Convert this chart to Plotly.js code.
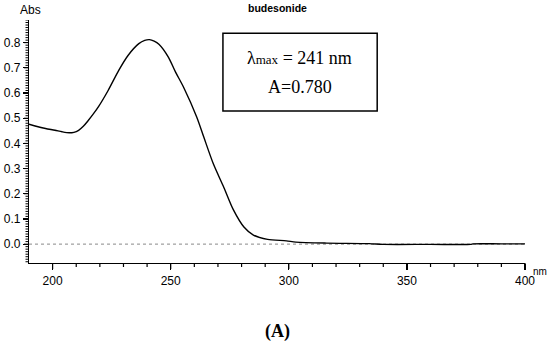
<!DOCTYPE html>
<html>
<head>
<meta charset="utf-8">
<script src="https://cdn.plot.ly/plotly-3.0.1.min.js"></script>
<style>html,body{margin:0;padding:0;background:#fff;}#chart{width:550px;height:341px;}</style>
</head>
<body>
<div id="chart"></div>
<script>
const wavelength = [190, 193, 197, 201, 204, 207, 209, 211, 213, 215, 217, 219.5, 223.5, 228, 232, 236.5, 239, 241, 243, 245, 249, 252, 255.5, 261, 264, 268, 272.5, 276.5, 281, 285, 291, 299, 303, 316, 334, 340, 360, 377, 378, 390, 400];
const absorbance = [0.476, 0.468, 0.459, 0.452, 0.446, 0.442, 0.444, 0.452, 0.468, 0.490, 0.514, 0.547, 0.610, 0.690, 0.750, 0.796, 0.809, 0.812, 0.806, 0.794, 0.743, 0.684, 0.622, 0.505, 0.425, 0.320, 0.225, 0.137, 0.068, 0.036, 0.019, 0.013, 0.008, 0.004, 0.002, -0.001, -0.001, -0.001, 0.001, 0.001, 0.001];
const xRange = [190, 400];
const yRange = [-0.075, 0.89];
const xTickStart = 200, xTickStep = 50, xMinorStep = 10;
const yTickStart = 0, yTickStep = 0.1, yMinorStep = 0.01;

const trace = {
  x: wavelength, y: absorbance, type: 'scatter', mode: 'lines',
  line: {color: '#000', width: 1.4, shape: 'spline', smoothing: 0.8},
  hoverinfo: 'skip'
};
const sans = 'Liberation Sans, Arial, sans-serif';
const serif = 'Liberation Serif, Times New Roman, serif';
const tickFont = {family: sans, size: 12, color: '#000'};

const tickShapes = [];
for (let i = 0; ; i++) {
  const v = xTickStart + i * xMinorStep;
  if (v > xRange[1] + 1e-9) break;
  const major = (Math.round(v - xTickStart) % xTickStep) === 0;
  const px = (v - xRange[0]) / (xRange[1] - xRange[0]);
  tickShapes.push({type: 'line', xref: 'paper', yref: 'paper', ysizemode: 'pixel', yanchor: 0,
    x0: px, x1: px, y0: 0, y1: major ? -6 : -4, line: {color: '#000', width: 1.2}});
}
for (let i = -7; ; i++) {
  const v = +(yTickStart + i * yMinorStep).toFixed(3);
  if (v > yRange[1] + 1e-9) break;
  const major = Math.abs(Math.round(v / yTickStep) * yTickStep - v) < 1e-6;
  tickShapes.push({type: 'line', xref: 'paper', yref: 'y', xsizemode: 'pixel', xanchor: 0,
    x0: major ? -5 : -3.5, x1: 0, y0: v, y1: v, line: {color: '#000', width: 1}});
}

const layout = {
  width: 550, height: 341,
  margin: {l: 29, r: 25, t: 20, b: 78},
  paper_bgcolor: '#fff', plot_bgcolor: '#fff',
  showlegend: false,
  xaxis: {
    range: xRange, tickmode: 'linear', tick0: xTickStart, dtick: xTickStep,
    showgrid: false, zeroline: false, showline: true, linecolor: '#000', linewidth: 1.2,
    ticks: 'outside', ticklen: 6, tickcolor: '#000', tickwidth: 1.2,
    tickfont: tickFont, fixedrange: true
  },
  yaxis: {
    range: yRange, tickmode: 'linear', tick0: yTickStart, dtick: yTickStep, tickformat: '.1f',
    showgrid: false, zeroline: false, showline: true, linecolor: '#000', linewidth: 1.2,
    ticks: 'outside', ticklen: 5, tickcolor: '#000', tickwidth: 1.2,
    tickfont: tickFont, fixedrange: true
  },
  shapes: [
    {type: 'line', xref: 'paper', x0: 0, x1: 1, yref: 'y', y0: 0, y1: 0,
     line: {color: '#888', width: 1, dash: 'dot'}, layer: 'below'},
    {type: 'rect', xref: 'paper', yref: 'paper', x0: 0.391, x1: 0.702, y0: 0.6255, y1: 0.945,
     line: {color: '#000', width: 1.5}, fillcolor: '#fff', layer: 'above'}
  ].concat(tickShapes),
  annotations: [
    {text: '<b>budesonide</b>', xref: 'paper', yref: 'paper', x: 0.501, y: 1.048, xanchor: 'center', yanchor: 'middle', showarrow: false,
     font: {family: sans, size: 10.5, color: '#000'}},
    {text: 'Abs', xref: 'paper', yref: 'paper', x: -0.022, y: 1.04, xanchor: 'left', yanchor: 'middle', showarrow: false,
     font: {family: sans, size: 12, color: '#000'}},
    {text: 'nm', xref: 'paper', yref: 'paper', x: 1.012, y: -0.036, xanchor: 'left', yanchor: 'middle', showarrow: false,
     font: {family: sans, size: 10, color: '#000'}},
    {text: 'λ<span style="font-size:13px">max</span> = 241 nm', xref: 'paper', yref: 'paper', x: 0.546, y: 0.844,
     xanchor: 'center', yanchor: 'middle', showarrow: false,
     font: {family: serif, size: 18, color: '#000'}},
    {text: 'A=0.780', xref: 'paper', yref: 'paper', x: 0.546, y: 0.724,
     xanchor: 'center', yanchor: 'middle', showarrow: false,
     font: {family: serif, size: 18, color: '#000'}},
    {text: '<b>(A)</b>', xref: 'paper', yref: 'paper', x: 0.501, y: -0.283, xanchor: 'center', yanchor: 'middle', showarrow: false,
     font: {family: serif, size: 18, color: '#000'}}
  ]
};
Plotly.newPlot('chart', [trace], layout, {displayModeBar: false, staticPlot: true});
</script>
</body>
</html>
